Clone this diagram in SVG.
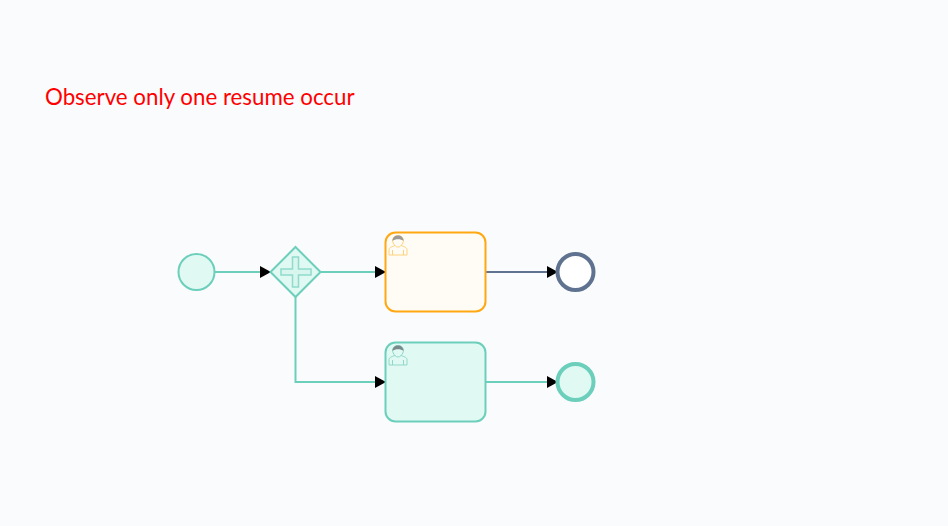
<svg xmlns="http://www.w3.org/2000/svg" width="948" height="526" viewBox="0 0 948 526">
<style>
.flow{fill:none;stroke:#6ccfbb;stroke-width:2}
.dark{stroke:#5f7290}
.body{fill:none;stroke-width:1}
.hair{stroke:none}
.label{font-family:"Lato","Open Sans",sans-serif;font-size:22.300px;fill:#ff0000}
</style>
<defs>
<marker id="arrow" markerUnits="userSpaceOnUse" markerWidth="12" markerHeight="12" refX="11" refY="6" orient="auto"><path d="M0,0L11,6L0,12z" fill="#000"/></marker>
<g id="user">
<path class="body" d="M0,19V13.500C0,11.500 3,10.500 6,9.500C4.500,8 3.500,6 3.500,4.500C3.500,1.500 6,-.5 9,-.5C12,-.5 14.500,1.500 14.500,4.500C14.500,6 13.500,8 12,9.500C15,10.500 18,11.500 18,13.500V19ZM3.500,19V14M14.500,19V14M6,9.500C7.500,11.500 10.500,11.500 12,9.500"/>
</g>
</defs>
<rect width="948" height="526" fill="#fafbfd"/>
<text class="label" x="45" y="105">Observe only one resume occur</text>
<g id="connectors">
<path class="flow" d="M215,272H271" marker-end="url(#arrow)"/>
<path class="flow" d="M320,272H386" marker-end="url(#arrow)"/>
<path class="flow" d="M295.500,296V382H386" marker-end="url(#arrow)"/>
<path class="flow dark" d="M486,272H558" marker-end="url(#arrow)"/>
<path class="flow" d="M486,382H558" marker-end="url(#arrow)"/>
</g>
<g id="start"><circle cx="196.500" cy="272" r="18" fill="#e0f9f2" stroke="#6ccfbb" stroke-width="2"/></g>
<g id="gateway">
<path d="M295.500,247L320.500,272L295.500,297L270.500,272Z" fill="#e0f9f2" stroke="#6ccfbb" stroke-width="2"/>
<path d="M292.500,257H298.500V269H311V275H298.500V287H292.500V275H281V269H292.500Z" fill="#d8f5ee" stroke="#8fdccc" stroke-width="1.500"/>
</g>
<g id="task1">
<rect x="385.500" y="232.500" width="100" height="79" rx="10" fill="#fffcf5" stroke="#ffa812" stroke-width="2"/>
<use href="#user" x="389" y="236" stroke="#ffd27d"/>
<path class="hair" d="M392.500,241C392.500,237.500 395,235.500 398,235.500C401,235.500 403.500,237.500 403.500,241C401,238.500 395,238.500 392.500,241Z" fill="#9a9a98"/>
</g>
<g id="task2">
<rect x="385.500" y="342.500" width="100" height="79" rx="10" fill="#e0f9f2" stroke="#6ccfbb" stroke-width="2"/>
<use href="#user" x="389" y="346" stroke="#8fd8c9"/>
<path class="hair" d="M392.500,351C392.500,347.500 395,345.500 398,345.500C401,345.500 403.500,347.500 403.500,351C401,348.500 395,348.500 392.500,351Z" fill="#7a8a8c"/>
</g>
<g id="end1"><circle cx="575.500" cy="272" r="18" fill="#ffffff" stroke="#5f7290" stroke-width="4"/></g>
<g id="end2"><circle cx="575.500" cy="382" r="18" fill="#e0f9f2" stroke="#6ccfbb" stroke-width="4"/></g>
</svg>
